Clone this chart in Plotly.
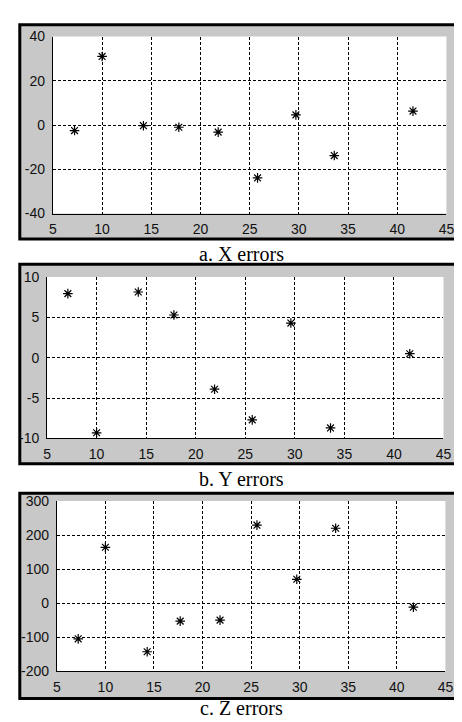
import plotly.graph_objects as go

W, H = 462, 722

# ---- data ----
x_ticks = [5, 10, 15, 20, 25, 30, 35, 40, 45]

x_a = [7.2, 10.0, 14.2, 17.8, 21.8, 25.8, 29.7, 33.6, 41.6]
y_a = [-2.5, 31, -0.3, -1, -3.2, -23.9, 4.6, -13.8, 6.3]
y_a_ticks = [-40, -20, 0, 20, 40]

x_b = [7.1, 10.0, 14.2, 17.8, 21.9, 25.7, 29.6, 33.6, 41.6]
y_b = [7.95, -9.3, 8.15, 5.3, -3.9, -7.7, 4.3, -8.7, 0.5]
y_b_ticks = [-10, -5, 0, 5, 10]

x_c = [7.2, 10.0, 14.3, 17.7, 21.8, 25.6, 29.7, 33.7, 41.7]
y_c = [-105, 164, -143, -53, -50, 229, 70, 220, -12]
y_c_ticks = [-200, -100, 0, 100, 200, 300]

captions = ["a. X errors", "b. Y errors", "c. Z errors"]

# ---- layout geometry (pixels) ----
def px_x(p):
    return p / W

def px_y(p):
    return 1 - p / H

panels = [
    dict(px=(42, 446), py=(21, 202), frame=(9, 228), cap=243),
    dict(px=(36, 443), py=(267, 432), frame=(254, 458), cap=474),
    dict(px=(46, 445), py=(496, 670), frame=(488, 698), cap=708),
]

data = [(x_a, y_a, y_a_ticks), (x_b, y_b, y_b_ticks), (x_c, y_c, y_c_ticks)]

fig = go.Figure()
shapes = []
annotations = []
tick_font = dict(family="Liberation Sans, Arial, sans-serif", size=14, color="#111111")

for i, (p, (xs, ys, yt)) in enumerate(zip(panels, data)):
    n = "" if i == 0 else str(i + 1)
    xa = "x" + n
    ya = "y" + n
    fig.add_trace(go.Scatter(
        x=xs, y=ys, mode="markers", xaxis=xa, yaxis=ya,
        marker=dict(symbol="asterisk-open", size=8, color="black",
                    line=dict(color="black", width=1.2)),
        showlegend=False, hoverinfo="skip"))

    fig.update_layout(**{
        "xaxis" + n: dict(
            domain=[px_x(p["px"][0]), px_x(p["px"][1])],
            anchor=ya, range=[5, 45], tickvals=x_ticks,
            ticktext=[str(v) for v in x_ticks],
            showgrid=True, gridcolor="black", gridwidth=1, griddash="3px,2px",
            showline=True, linecolor="black", linewidth=1,
            ticks="", zeroline=False, tickfont=tick_font,
            ticklabelstandoff=3, fixedrange=True),
        "yaxis" + n: dict(
            domain=[px_y(p["py"][1]), px_y(p["py"][0])],
            anchor=xa, range=[yt[0], yt[-1]], tickvals=yt,
            ticktext=[str(v) for v in yt],
            showgrid=True, gridcolor="black", gridwidth=1, griddash="3px,2px",
            showline=True, linecolor="black", linewidth=1,
            ticks="", zeroline=False, tickfont=tick_font,
            ticklabelstandoff=4, fixedrange=True),
    })

    # gray figure frame
    shapes.append(dict(type="rect", xref="paper", yref="paper", layer="below",
                       x0=px_x(8), x1=1.05,
                       y0=px_y(p["frame"][1]), y1=px_y(p["frame"][0]),
                       fillcolor="#c8c8c8", line=dict(color="black", width=3)))
    # white plot area
    shapes.append(dict(type="rect", xref=xa + " domain", yref=ya + " domain",
                       layer="below", x0=0, x1=1, y0=0, y1=1,
                       fillcolor="white", line=dict(width=0)))
    annotations.append(dict(text=captions[i], xref="paper", yref="paper",
                            x=0.51, y=px_y(p["cap"]), showarrow=False,
                            xanchor="center", yanchor="middle",
                            font=dict(family="Liberation Serif, Times New Roman, serif",
                                      size=20, color="black")))

fig.update_layout(
    width=W, height=H,
    margin=dict(l=0, r=0, t=0, b=0),
    paper_bgcolor="white",
    plot_bgcolor="rgba(0,0,0,0)",
    shapes=shapes,
    annotations=annotations,
)

fig.write_html("out.html")
